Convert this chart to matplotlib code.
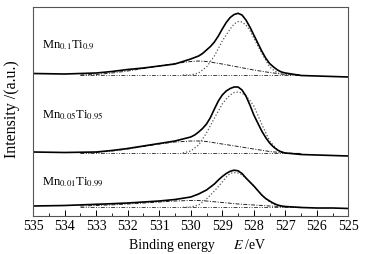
import matplotlib
matplotlib.use('Agg')
import matplotlib.pyplot as plt
from matplotlib.ticker import MultipleLocator

plt.rcParams['font.family'] = ['Liberation Serif', 'DejaVu Serif']
plt.rcParams['mathtext.fontset'] = 'stix'

# binding energy grids (eV)
E_sum = [535, 534, 533, 532.5, 532, 531.5, 531, 530.5, 530, 529.875, 529.75, 529.625,
         529.5, 529.375, 529.25, 529.125, 529, 528.875, 528.75, 528.625, 528.5, 528.375,
         528.25, 528.125, 528, 527.875, 527.75, 527.625, 527.5, 527.375, 527.25, 527.125,
         527, 526.5, 526, 525.5, 525]
E_main = [530.25, 530, 529.75, 529.5, 529.25, 529, 528.875, 528.75, 528.625, 528.5,
          528.375, 528.25, 528.125, 528, 527.75, 527.5, 527.25, 527]
E_broad = [533.5, 533, 532.5, 532, 531.5, 531, 530.5, 530, 529.75, 529.5, 529, 528.5,
           528, 527.5, 527, 526.5]
E_base = [533.5, 526.5]

# Mn0.1Ti0.9 (offset already included)
sum_01 = [142.5, 142, 143, 144.5, 146.5, 148, 150, 152, 157, 158.5, 160, 162.5, 166,
          169.5, 174, 180, 187, 193.5, 198.5, 201.5, 202.7, 201, 196, 189, 181, 173,
          165, 158, 152.5, 149, 146, 144, 143, 140.5, 140, 139.5, 139]
main_01 = [141, 141, 143, 149, 160, 175, 181, 187, 192, 194.5, 194, 191, 185.5, 178,
           163, 149, 143, 141]
broad_01 = [141, 141.5, 143, 145, 147.5, 150, 152.5, 154.5, 155, 154.5, 152, 149, 146,
            143.5, 141.5, 141]
base_01 = [141, 141]

# Mn0.05Ti0.95
sum_005 = [64, 63.5, 64, 65.5, 67.5, 70, 72.5, 75, 79, 81, 84, 87.5, 92, 98.5, 107, 115,
           121, 125, 127.5, 129, 129, 126, 120, 111, 101, 93, 85, 78.5, 73, 69, 66, 64,
           63, 61.5, 61, 60.5, 60]
main_005 = [63, 65, 71, 83, 98, 112, 117, 121, 123.5, 124, 123, 120, 115.5, 110, 92, 75,
            66, 63]
broad_005 = [63, 63.5, 65, 67, 69.5, 72, 74, 75, 75, 74.5, 72, 69.5, 67, 64.5, 63, 62.5]
base_005 = [63, 63]

# Mn0.01Ti0.99
sum_001 = [10, 10.5, 11.7, 12.3, 13, 14, 15, 16.5, 19, 20.5, 22, 24, 26, 29, 32, 36,
           39.5, 42.5, 44.7, 45.8, 45.2, 42.5, 38, 34, 30, 25.5, 21, 17.5, 15, 12.7, 11,
           10, 9.5, 8.5, 8, 8, 7.5]
main_001 = [8.7, 9, 11, 17, 25, 34, 39, 42.5, 43.5, 43, 41, 38, 34, 30, 21, 14, 10, 8.7]
broad_001 = [10, 10.5, 11.2, 12, 13, 14, 15, 15.5, 15.5, 15, 13.5, 12, 11, 10, 9.2, 8.7]
base_001 = [8.7, 8.7]

labels = [r'Mn$_{\mathrm{0.1}}$Ti$_{\mathrm{0.9}}$',
          r'Mn$_{\mathrm{0.05}}$Ti$_{\mathrm{0.95}}$',
          r'Mn$_{\mathrm{0.01}}$Ti$_{\mathrm{0.99}}$']
label_y = [171, 101, 34]

fig = plt.figure(figsize=(3.71, 2.54), dpi=100)
ax = fig.add_axes([0.0889, 0.1496, 0.8504, 0.8248])

spectra = [(sum_01, main_01, broad_01, base_01),
           (sum_005, main_005, broad_005, base_005),
           (sum_001, main_001, broad_001, base_001)]
for s, m, b, bl in spectra:
    ax.plot(E_base, bl, color='#444444', lw=0.7, ls=(0, (4, 1.5, 1, 1.5, 1, 1.5)))
    ax.plot(E_broad, b, color='#222222', lw=0.7, ls=(0, (4, 1.5, 1, 1.5)))
    ax.plot(E_main, m, color='#555555', lw=0.9, ls=(0, (1, 1.6)))
    ax.plot(E_sum, s, color='black', lw=1.2)

for lab, y in zip(labels, label_y):
    ax.text(534.7, y, lab, fontsize=9, va='center', ha='left')

ax.set_xlim(535, 525)
ax.set_ylim(0, 209.5)
ax.xaxis.set_major_locator(MultipleLocator(1))
ax.xaxis.set_minor_locator(MultipleLocator(0.5))
ax.tick_params(axis='x', direction='in', length=4, width=0.7, labelsize=10, pad=3)
ax.tick_params(axis='x', which='minor', direction='in', length=2.5, width=0.6)
ax.set_yticks([])
for sp in ax.spines.values():
    sp.set_color('#555555')
    sp.set_linewidth(0.8)

# axis titles
fig.text(0.5795, 0.018, 'Binding energy', fontsize=10, ha='right', va='baseline')
fig.text(0.628, 0.018, r'$\mathit{E}$ /eV', fontsize=10, ha='left', va='baseline')
fig.text(0.032, 0.57, 'Intensity /(a.u.)', fontsize=11.5, rotation=90,
         ha='center', va='center')

fig.savefig('out.png', dpi=100)
